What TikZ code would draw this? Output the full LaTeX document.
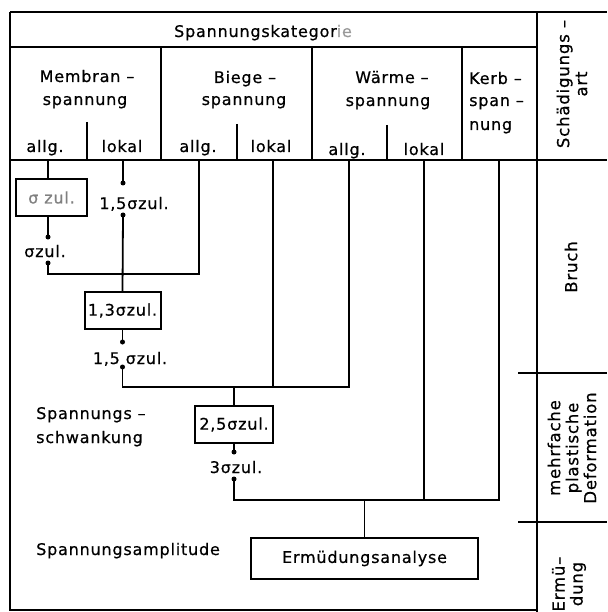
\documentclass[tikz,border=0pt]{standalone}
\usepackage{fontspec}
\setmainfont[LetterSpace=5, FakeBold=0.6]{DejaVu Sans}
\begin{document}
\begin{tikzpicture}[x=1pt,y=-1pt,
  frm/.style={line width=2.1pt},
  thk/.style={line width=2.8pt},
  conn/.style={line width=1.8pt},
  txt/.style={inner sep=0pt, font=\fontsize{16}{23}\selectfont, anchor=base},
  txtw/.style={txt, anchor=base west},
  bx/.style={draw, line width=2pt, inner sep=0pt, font=\fontsize{16}{23}\selectfont, minimum height=37pt},
  rot/.style={rotate=90, align=center, font=\fontsize{16.5}{18}\selectfont, inner sep=0pt},
  dotc/.style={circle, fill, inner sep=0pt, minimum size=5pt}
]
\useasboundingbox (0,0) rectangle (607,612);
% ---------- frame ----------
\draw[frm] (10,12) -- (607,12);
\draw[frm] (10,12) -- (10,610) -- (537,610);
\draw[frm] (10,47) -- (537,47);
\draw[thk] (10,160) -- (607,160);
\draw[frm] (537,12) -- (537,612);
\draw[frm] (161,47) -- (161,160);
\draw[frm] (312,47) -- (312,160);
\draw[frm] (462,47) -- (462,160);
\draw[frm] (87,122) -- (87,160);
\draw[frm] (237,124) -- (237,160);
\draw[frm] (387,125) -- (387,160);
\draw[frm] (518,373) -- (607,373);
\draw[frm] (518,522) -- (607,522);
% ---------- header texts ----------
\node[txt] (kat) at (263,37) {Spannungskategor\textcolor{black!40}{ie}};
\node[txt] (mem1) at (87,82) {Membran –};
\node[txt] (mem2) at (85,105) {spannung};
\node[txt] (bie1) at (245,83) {Biege –};
\node[txt] (bie2) at (244,105) {spannung};
\node[txt] (war1) at (392,83) {Wärme –};
\node[txt] (war2) at (388,106) {spannung};
\node[txtw] (ker1) at (469,84) {Kerb –};
\node[txtw] (ker2) at (469,106) {span –};
\node[txtw] (ker3) at (469,130) {nung};
\node[txt] (ma) at (45,152) {allg.};
\node[txt] (ml) at (122,152) {lokal};
\node[txt] (ba) at (198,152) {allg.};
\node[txt] (bl) at (271,152) {lokal};
\node[txt] (wa) at (347,155) {allg.};
\node[txt] (wl) at (424,155) {lokal};
% ---------- right column ----------
\node[rot] (schad) at (572,84) {Schädigungs –\\art};
\node[rot] (bruch) at (571,267) {Bruch};
\node[rot] (mpd) at (572,448) {mehrfache\\plastische\\Deformation};
\node[rot] (ermu) at (569,584) {Ermü–\\dung};
% ---------- header coordinates ----------
\coordinate (hMa) at (48,160);
\coordinate (hMl) at (123,160);
\coordinate (hBa) at (199,160);
\coordinate (hBl) at (273,160);
\coordinate (hWa) at (349,160);
\coordinate (hWl) at (424,160);
\coordinate (hK) at (499,160);
% ---------- body nodes ----------
\node[bx, minimum width=71pt, text=black!50] (b1) at (51.5,197.5) {σ zul.};
\node[txt] (t15a) at (134,209) {1,5σzul.};
\node[dotc] (d3) at (123,183) {};
\node[dotc] (d4) at (123,215) {};
\node[dotc] (d1) at (48,237) {};
\node[txt] (tsz) at (45,257) {σzul.};
\node[dotc] (d2) at (48,263) {};
\node[bx, minimum width=76pt] (b2) at (122.5,310.5) {1,3σzul.};
\node[dotc] (d5) at (122.5,342) {};
\node[txt] (t15b) at (130,364) {1,5 σzul.};
\node[dotc] (d6) at (122.5,367) {};
\node[txtw] (sp1) at (36,419) {Spannungs –};
\node[txtw] (sp2) at (36,443) {schwankung};
\node[bx, minimum width=78pt] (b3) at (234,424.5) {2,5σzul.};
\node[dotc] (d7) at (234,452) {};
\node[txt] (t3) at (236,473) {3σzul.};
\node[dotc] (d8) at (234,479) {};
\node[txtw] (amp) at (36,555) {Spannungsamplitude};
\node[bx, minimum width=227pt, minimum height=41pt] (b4) at (364.5,558.5) {Ermüdungsanalyse};
% ---------- connectors ----------
\coordinate (j1) at (199,274);
\coordinate (j2) at (349,387);
\coordinate (j3) at (499,500);
\draw[conn] (hMa) -- (hMa |- b1.north);
\draw[conn] (hMa |- b1.south) -- (d1.center);
\draw[conn] (d2.center) |- (j1) -- (hBa);
\draw[conn] (hMl) -- (d3.center);
\draw[conn] (d4.center) -- (b2.north);
\draw[conn] (b2.south) -- (d5.center);
\draw[conn] (d6.center) |- (j2) -- (hWa);
\draw[conn] (hBl) -- (hBl |- j2);
\draw[conn] (b3.north) -- (b3.north |- j2);
\draw[conn] (b3.south) -- (d7.center);
\draw[conn] (d8.center) |- (j3) -- (hK);
\draw[conn] (hWl) -- (hWl |- j3);
\draw[conn] (b4.north) -- (b4.north |- j3);
\end{tikzpicture}
\end{document}
